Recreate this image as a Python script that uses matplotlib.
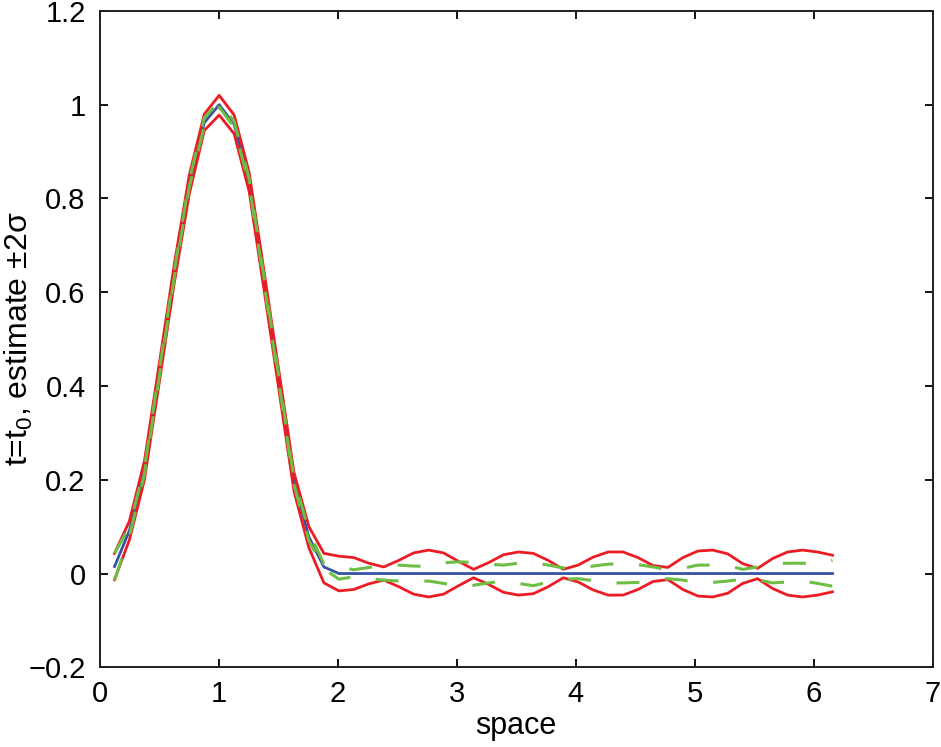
import matplotlib

matplotlib.use("Agg")
import matplotlib.pyplot as plt

# grid points (space), 49 samples between 0 and 2*pi
x = [0.126, 0.251, 0.377, 0.503, 0.628, 0.754, 0.880, 1.005, 1.131, 1.257,
     1.382, 1.508, 1.634, 1.759, 1.885, 2.011, 2.136, 2.262, 2.388, 2.513,
     2.639, 2.765, 2.890, 3.016, 3.142, 3.267, 3.393, 3.519, 3.644, 3.770,
     3.896, 4.021, 4.147, 4.273, 4.398, 4.524, 4.650, 4.775, 4.901, 5.027,
     5.152, 5.278, 5.404, 5.529, 5.655, 5.781, 5.906, 6.032, 6.158]

truth = [0.015, 0.092, 0.22, 0.43, 0.64, 0.83, 0.962, 1.0, 0.958, 0.835,
         0.625, 0.41, 0.195, 0.078, 0.014, 0.0, 0.0, 0.0, 0.0, 0.0,
         0.0, 0.0, 0.0, 0.0, 0.0, 0.0, 0.0, 0.0, 0.0, 0.0,
         0.0, 0.0, 0.0, 0.0, 0.0, 0.0, 0.0, 0.0, 0.0, 0.0,
         0.0, 0.0, 0.0, 0.0, 0.0, 0.0, 0.0, 0.0, 0.0]

band_hi = [0.043, 0.112, 0.24, 0.45, 0.66, 0.85, 0.98, 1.02, 0.978, 0.855,
           0.645, 0.43, 0.215, 0.10, 0.043, 0.037, 0.034, 0.022, 0.014, 0.028,
           0.044, 0.050, 0.044, 0.026, 0.009, 0.023, 0.040, 0.046, 0.043, 0.028,
           0.009, 0.018, 0.035, 0.046, 0.046, 0.034, 0.017, 0.013, 0.034, 0.048,
           0.050, 0.042, 0.021, 0.011, 0.032, 0.046, 0.050, 0.046, 0.039]

band_lo = [-0.013, 0.072, 0.20, 0.41, 0.62, 0.81, 0.945, 0.978, 0.938, 0.815,
           0.605, 0.39, 0.175, 0.055, -0.02, -0.037, -0.034, -0.022, -0.014, -0.028,
           -0.044, -0.050, -0.044, -0.026, -0.009, -0.023, -0.040, -0.046, -0.043, -0.028,
           -0.009, -0.018, -0.035, -0.046, -0.046, -0.034, -0.017, -0.013, -0.034, -0.048,
           -0.050, -0.042, -0.021, -0.011, -0.032, -0.046, -0.050, -0.046, -0.039]

est_hi = [0.043, 0.10, 0.225, 0.435, 0.645, 0.838, 0.972, 1.006, 0.965, 0.842,
          0.632, 0.417, 0.202, 0.09, 0.02, 0.015, 0.008, 0.013, 0.017, 0.018,
          0.016, 0.015, 0.023, 0.025, 0.024, 0.020, 0.018, 0.022, 0.023, 0.018,
          0.012, 0.010, 0.016, 0.020, 0.021, 0.019, 0.014, 0.008, 0.011, 0.018,
          0.018, 0.017, 0.009, 0.014, 0.021, 0.022, 0.022, 0.021, 0.028]

est_lo = [-0.014, 0.08, 0.212, 0.422, 0.632, 0.825, 0.955, 0.995, 0.952, 0.83,
          0.62, 0.405, 0.19, 0.07, 0.01, -0.012, -0.007, -0.011, -0.014, -0.016,
          -0.017, -0.016, -0.021, -0.028, -0.025, -0.020, -0.016, -0.021, -0.026, -0.018,
          -0.012, -0.011, -0.015, -0.020, -0.020, -0.019, -0.015, -0.011, -0.014, -0.020,
          -0.019, -0.016, -0.012, -0.013, -0.020, -0.018, -0.016, -0.021, -0.027]

x_ticks = [0, 1, 2, 3, 4, 5, 6, 7]
y_ticks = [-0.2, 0, 0.2, 0.4, 0.6, 0.8, 1, 1.2]
y_tick_labels = ["\u22120.2", "0", "0.2", "0.4", "0.6", "0.8", "1", "1.2"]

plt.rcParams["font.family"] = ["Liberation Sans", "DejaVu Sans"]
plt.rcParams["mathtext.default"] = "regular"
plt.rcParams["lines.scale_dashes"] = False

fig = plt.figure(figsize=(9.41, 7.47), dpi=100)
ax = fig.add_axes([0.1058, 0.1067, 0.8854, 0.8786])

ax.plot(x, truth, color="#3552a3", lw=2.0)
ax.plot(x, band_hi, color="#ec1c24", lw=2.0)
ax.plot(x, band_lo, color="#ec1c24", lw=2.0)
ax.plot(x, est_hi, color="#6dbe45", lw=2.2, dashes=(16.5, 18.5))
ax.plot(x, est_lo, color="#6dbe45", lw=2.2, dashes=(16.5, 18.5))

ax.set_xlim(0, 7)
ax.set_ylim(-0.2, 1.2)
ax.set_xticks(x_ticks)
ax.set_yticks(y_ticks)
ax.set_yticklabels(y_tick_labels)
ax.tick_params(direction="in", length=6, width=1.3, labelsize=21,
               top=True, right=True, pad=9)
ax.tick_params(axis="y", pad=10)
for sp in ax.spines.values():
    sp.set_linewidth(1.4)
    sp.set_color("#231f20")

ax.set_xlabel("space", fontsize=22)
ax.xaxis.set_label_coords(0.5, -0.066)
ax.set_ylabel("t=t$_0$, estimate \u00b12\u03c3", fontsize=23)
ax.yaxis.set_label_coords(-0.077, 0.5)

fig.savefig("out.png", dpi=100)
